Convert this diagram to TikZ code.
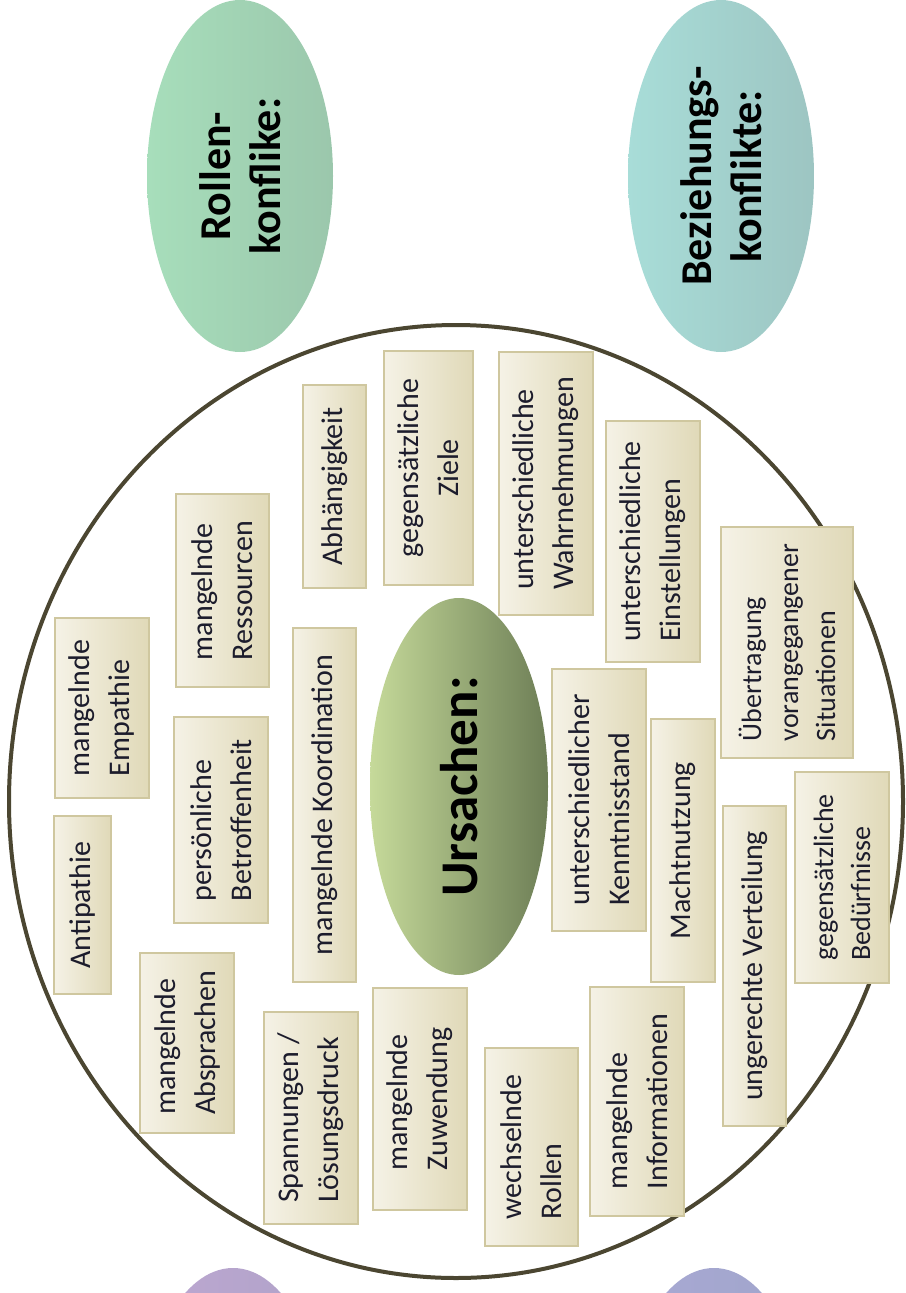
\documentclass[tikz,border=0pt]{standalone}
\usepackage{fontspec}
\setmainfont{Carlito}
\usetikzlibrary{shapes.geometric}
\definecolor{boxL}{HTML}{F5F2E6}
\definecolor{boxR}{HTML}{E0D9B8}
\definecolor{boxB}{HTML}{CFC79F}
\definecolor{txt}{HTML}{1C1C2C}
\definecolor{circ}{HTML}{4B4631}
\definecolor{rolL}{HTML}{A7DEBB}
\definecolor{rolR}{HTML}{9BC7AC}
\definecolor{bezL}{HTML}{A8DDD8}
\definecolor{bezR}{HTML}{9DC5C2}
\definecolor{purL}{HTML}{BDA8D1}
\definecolor{purR}{HTML}{B0A2C9}
\definecolor{bluL}{HTML}{A9A9D4}
\definecolor{bluR}{HTML}{A0A5CB}
\definecolor{ursL}{HTML}{C6DA9A}
\definecolor{ursR}{HTML}{6D7E56}
\tikzset{
  cause/.style={rectangle, draw=boxB, line width=1.3pt, rotate=90,
    left color=boxL, right color=boxR, inner sep=0pt, align=left,
    text=txt, font=\fontsize{30}{40}\selectfont},
  kind/.style={ellipse, rotate=90, inner sep=0pt, minimum width=352pt,
    minimum height=186pt, align=center, text=black,
    font=\bfseries\fontsize{44}{50}\selectfont},
}
\begin{document}
\begin{tikzpicture}[x=1pt,y=-1pt]
\useasboundingbox (0,0) rectangle (905,1293);
\clip (0,0) rectangle (905,1293);
% conflict kinds
\node[kind, left color=rolL, right color=rolR] (rollen) at (240,176) {Rollen-\\konflike:};
\node[kind, left color=bezL, right color=bezR] (bez) at (721,176) {Beziehungs-\\konflikte:};
\node[kind, left color=purL, right color=purR] (lila) at (233,1444) {};
\node[kind, left color=bluL, right color=bluR] (blau) at (714,1444) {};
% big circle
\node[ellipse, draw=circ, line width=4pt, minimum width=894pt, minimum height=953pt, inner sep=0pt] (frame) at (456,801.5) {};
% centre
\node[ellipse, rotate=90, inner sep=0pt, minimum width=377pt, minimum height=178pt,
  left color=ursL, right color=ursR, text=black,
  font=\bfseries\fontsize{53}{60}\selectfont] (urs) at (459,786.5) {Ursachen:};
% causes
\node[cause, minimum width=203pt, minimum height=63pt] (abh) at (334.5,486.5) {Abhängigkeit};
\node[cause, minimum width=234pt, minimum height=89pt, align=center] (ziele) at (428.5,468) {gegensätzliche\\Ziele};
\node[cause, minimum width=263pt, minimum height=94pt] (wahr) at (546,483.5) {unterschiedliche\\Wahrnehmungen};
\node[cause, minimum width=241pt, minimum height=94pt] (einst) at (653,541.5) {unterschiedliche\\Einstellungen};
\node[cause, minimum width=231pt, minimum height=132pt, font=\fontsize{28}{37}\selectfont] (uebertr) at (787,642.5) {Übertragung\\vorangegangener\\Situationen};
\node[cause, minimum width=193pt, minimum height=93pt] (ress) at (222.5,590.5) {mangelnde\\Ressourcen};
\node[cause, minimum width=180pt, minimum height=94pt] (empa) at (102,708) {mangelnde\\Empathie};
\node[cause, minimum width=206pt, minimum height=94pt] (betr) at (221,820) {persönliche\\Betroffenheit};
\node[cause, minimum width=354pt, minimum height=63pt] (koord) at (324.5,805) {mangelnde Koordination};
\node[cause, minimum width=178pt, minimum height=57pt] (anti) at (82.5,905) {Antipathie};
\node[cause, minimum width=262pt, minimum height=94pt] (kennt) at (599,800) {unterschiedlicher\\Kenntnisstand};
\node[cause, minimum width=263pt, minimum height=64pt] (macht) at (683,850.5) {Machtnutzung};
\node[cause, minimum width=320pt, minimum height=63pt] (vert) at (754.5,966) {ungerechte Verteilung};
\node[cause, minimum width=211pt, minimum height=94pt, font=\fontsize{28}{37}\selectfont] (beduerf) at (842,877.5) {gegensätzliche\\Bedürfnisse};
\node[cause, minimum width=180pt, minimum height=94pt] (absp) at (187,1043) {mangelnde\\Absprachen};
\node[cause, minimum width=212pt, minimum height=94pt] (spann) at (311,1118) {Spannungen /\\Lösungsdruck};
\node[cause, minimum width=222pt, minimum height=94pt] (zuw) at (420,1099) {mangelnde\\Zuwendung};
\node[cause, minimum width=198pt, minimum height=93pt] (wech) at (531.5,1147) {wechselnde\\Rollen};
\node[cause, minimum width=229pt, minimum height=94pt] (info) at (637,1101.5) {mangelnde\\Informationen};
\end{tikzpicture}
\end{document}
